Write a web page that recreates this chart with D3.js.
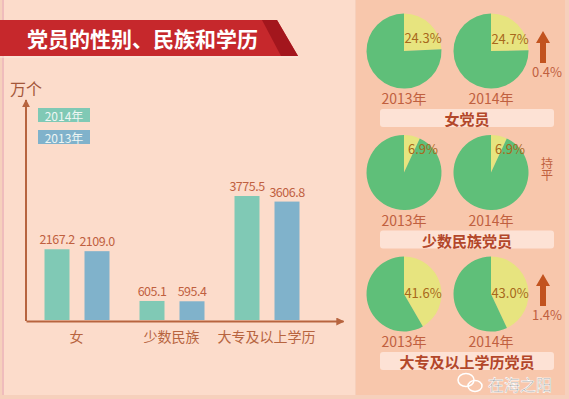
<!DOCTYPE html>
<html>
<head>
<meta charset="utf-8">
<script src="https://cdn.jsdelivr.net/npm/d3@7"></script>
<style>
  body { margin: 0; background: #f6d0bc; }
  svg { display: block; font-family: "Noto Sans CJK SC", "Noto Sans", sans-serif; }
</style>
</head>
<body>
<svg id="chart" width="569" height="399"></svg>
<script>
// bar chart data (万个)
const categories = ['女', '少数民族', '大专及以上学历'];
const years = ['2014年', '2013年'];
const values2014 = [2167.2, 605.1, 3775.5];
const values2013 = [2109.0, 595.4, 3606.8];

// pie data (share %), rows: 女党员, 少数民族党员, 大专及以上学历党员
const pieTitles = ['女党员', '少数民族党员', '大专及以上学历党员'];
const pieYears = ['2013年', '2014年'];
const share2013 = [24.3, 6.9, 41.6];
const share2014 = [24.7, 6.9, 43.0];
const changeLabels = ['0.4%', '持平', '1.4%'];

const title = '党员的性别、民族和学历';
const unitLabel = '万个';

const svg = d3.select('#chart');
const W = 569, H = 399;

const barColors = { '2014年': '#80c9b5', '2013年': '#80b2cb' };
const textBrown = '#c0603f';
const axisColor = '#b7643f';

// panels
svg.append('rect').attr('width', W).attr('height', H).attr('fill', '#f6d0bc');
svg.append('rect').attr('x', 3).attr('y', 0).attr('width', 352).attr('height', 395).attr('fill', '#fcdccb');
svg.append('line').attr('x1', 3).attr('x2', 3).attr('y1', 0).attr('y2', 395)
  .attr('stroke', '#efbcbc').attr('stroke-width', 2);
svg.append('rect').attr('x', 356).attr('y', 0).attr('width', 209).attr('height', 395).attr('fill', '#f8c7ac');

// title banner
svg.append('polygon').attr('points', '0,20 277,20 298,56 0,56').attr('fill', '#c6282c');
svg.append('polygon').attr('points', '262,20 277,20 298,56 281,56').attr('fill', '#a3161d');
svg.append('line').attr('x1', 0).attr('x2', 298).attr('y1', 57).attr('y2', 57)
  .attr('stroke', '#fbe9e0').attr('stroke-width', 1);
svg.append('text').attr('x', 27).attr('y', 38)
  .attr('dominant-baseline', 'central')
  .attr('fill', '#ffffff').attr('font-size', 21).attr('font-weight', 'bold')
  .text(title);

// ---------- grouped bar chart ----------
const baseY = 321;
const x0 = d3.scaleBand().domain(categories).range([29, 314]).padding(0);
const x1 = d3.scaleBand().domain(years).range([-32, 33]).paddingInner(0.375);
const y = d3.scaleLinear().domain([0, d3.max(values2014)]).range([baseY, 196]);

const defs = svg.append('defs');
defs.append('marker').attr('id', 'arrow')
  .attr('viewBox', '0 0 10 10').attr('refX', 9).attr('refY', 5)
  .attr('markerWidth', 4).attr('markerHeight', 4).attr('orient', 'auto')
  .append('path').attr('d', 'M0,0L10,5L0,10z').attr('fill', axisColor);

// x axis
const xAxis = svg.append('g').attr('transform', `translate(0,${baseY})`)
  .call(d3.axisBottom(d3.scaleLinear().domain([0, 1]).range([26, 343])).tickValues([]).tickSizeOuter(0));
xAxis.select('.domain').attr('stroke', axisColor).attr('stroke-width', 2).attr('marker-end', 'url(#arrow)');

// y axis
const yAxis = svg.append('g').attr('transform', 'translate(26,0)')
  .call(d3.axisLeft(d3.scaleLinear().domain([0, 1]).range([baseY, 100])).tickValues([]).tickSizeOuter(0));
yAxis.select('.domain').attr('stroke', axisColor).attr('stroke-width', 2)
  .attr('d', `M0,${baseY}V100`).attr('marker-end', 'url(#arrow)');

svg.append('text').attr('x', 10).attr('y', 88).attr('dominant-baseline', 'central')
  .attr('fill', '#a4573a').attr('font-size', 16).text(unitLabel);

// bars
const rows = categories.map((c, i) => ({ cat: c, vals: [
  { year: '2014年', v: values2014[i] },
  { year: '2013年', v: values2013[i] }
]}));

const groups = svg.selectAll('.grp').data(rows).enter().append('g')
  .attr('class', 'grp')
  .attr('transform', d => `translate(${x0(d.cat) + x0.bandwidth() / 2},0)`);

groups.selectAll('rect').data(d => d.vals).enter().append('rect')
  .attr('x', d => x1(d.year))
  .attr('y', d => y(d.v))
  .attr('width', x1.bandwidth())
  .attr('height', d => baseY - 1 - y(d.v))
  .attr('fill', d => barColors[d.year]);

groups.selectAll('text.val').data(d => d.vals).enter().append('text')
  .attr('class', 'val')
  .attr('x', d => x1(d.year) + x1.bandwidth() / 2)
  .attr('y', d => y(d.v) - 5)
  .attr('text-anchor', 'middle')
  .attr('fill', textBrown).attr('font-size', 12.5).attr('letter-spacing', -0.5)
  .text(d => d.v.toFixed(1));

groups.append('text')
  .attr('y', 336).attr('text-anchor', 'middle').attr('dominant-baseline', 'central')
  .attr('fill', axisColor).attr('font-size', 14)
  .text(d => d.cat);

// legend
const legend = svg.selectAll('.leg').data(years).enter().append('g')
  .attr('class', 'leg')
  .attr('transform', (d, i) => `translate(38,${108 + i * 22})`);
legend.append('rect').attr('width', 52).attr('height', 14).attr('fill', d => barColors[d]);
legend.append('text').attr('x', 26).attr('y', 7.5)
  .attr('text-anchor', 'middle').attr('dominant-baseline', 'central')
  .attr('fill', '#eef6f3').attr('font-size', 12).text(d => d);

// ---------- pies ----------
const pieX = d3.scalePoint().domain(pieYears).range([404, 491]);
const rowY = d3.scalePoint().domain(pieTitles).range([51, 294]);
const R = 37.5;
const pie = d3.pie().sort(null).value(d => d);
const arc = d3.arc().innerRadius(0).outerRadius(R);
const sliceColors = ['#e7e47f', '#5fbf79'];

pieTitles.forEach((t, i) => {
  const cy = rowY(t);
  [share2013[i], share2014[i]].forEach((s, j) => {
    const cx = pieX(pieYears[j]);
    const g = svg.append('g').attr('transform', `translate(${cx},${cy})`);
    const arcs = pie([s, 100 - s]);
    g.selectAll('path').data(arcs).enter().append('path')
      .attr('d', arc).attr('fill', (d, k) => sliceColors[k]);
    const mid = (arcs[0].startAngle + arcs[0].endAngle) / 2;
    const c = Math.cos(mid);
    g.append('text')
      .attr('x', 19).attr('y', -0.68 * R * c * c)
      .attr('text-anchor', 'middle').attr('dominant-baseline', 'central')
      .attr('fill', '#a8681c').attr('font-size', 13)
      .text(s.toFixed(1) + '%');
    g.append('text')
      .attr('y', 47).attr('text-anchor', 'middle').attr('dominant-baseline', 'central')
      .attr('fill', textBrown).attr('font-size', 14)
      .text(pieYears[j]);
  });

  // change indicator
  const ax = 543;
  const delta = share2014[i] - share2013[i];
  if (Math.abs(delta) > 0.05) {
    svg.append('path')
      .attr('d', `M${ax},${cy - 20}L${ax + 7},${cy - 8}L${ax + 3},${cy - 8}L${ax + 3},${cy + 12}L${ax - 3},${cy + 12}L${ax - 3},${cy - 8}L${ax - 7},${cy - 8}Z`)
      .attr('fill', '#c2531f');
    svg.append('text').attr('x', ax + 4).attr('y', cy + 20)
      .attr('text-anchor', 'middle').attr('dominant-baseline', 'central')
      .attr('fill', textBrown).attr('font-size', 13).text(changeLabels[i]);
  } else {
    // vertical text (持平)
    svg.append('text').attr('x', ax + 4).attr('y', cy - 15)
      .attr('writing-mode', 'vertical-rl')
      .attr('fill', textBrown).attr('font-size', 12)
      .text(changeLabels[i]);
  }

  // title box
  const by = cy + 58;
  svg.append('rect').attr('x', 380).attr('y', by).attr('width', 174).attr('height', 18)
    .attr('rx', 3).attr('fill', '#fde2d5');
  svg.append('text').attr('x', 467).attr('y', by + 9.5)
    .attr('text-anchor', 'middle').attr('dominant-baseline', 'central')
    .attr('fill', '#b3472a').attr('font-size', 15).attr('font-weight', 'bold')
    .text(t);
});

// watermark
svg.append('text').attr('x', 520).attr('y', 384)
  .attr('text-anchor', 'middle').attr('dominant-baseline', 'central')
  .attr('fill', '#8d8d8d').attr('stroke', '#ffffff').attr('stroke-width', 0.6)
  .attr('font-size', 16).text('在海之阳');
svg.append('ellipse').attr('cx', 466).attr('cy', 380).attr('rx', 8).attr('ry', 6.5)
  .attr('fill', 'none').attr('stroke', '#ffffff').attr('stroke-width', 1.5);
svg.append('ellipse').attr('cx', 475).attr('cy', 386).attr('rx', 7).attr('ry', 5.5)
  .attr('fill', 'none').attr('stroke', '#ffffff').attr('stroke-width', 1.5);
</script>
</body>
</html>
